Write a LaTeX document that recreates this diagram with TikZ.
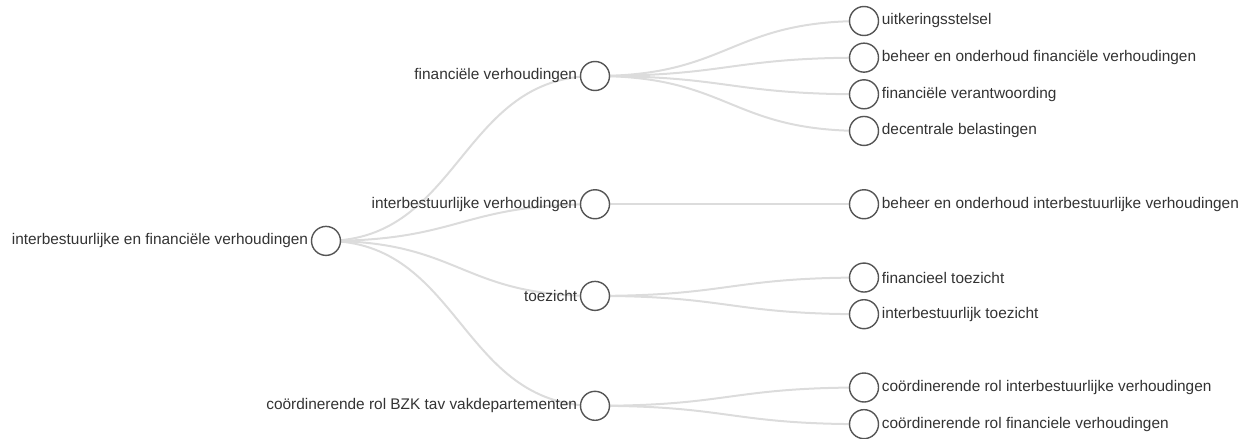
\documentclass[tikz,border=0pt]{standalone}
\usepackage{fontspec}
\setmainfont{Liberation Sans}
\usetikzlibrary{backgrounds}
\definecolor{linkgray}{HTML}{DCDCDC}
\definecolor{circgray}{HTML}{555555}
\definecolor{txtgray}{HTML}{333333}
\begin{document}
\begin{tikzpicture}[x=1pt,y=-1pt,
  dot/.style={circle,draw=circgray,line width=1.4pt,fill=white,minimum size=29pt,inner sep=0pt},
  lbl/.style={font=\fontsize{15.4}{18}\selectfont,text=txtgray,inner sep=1pt},
  leftlbl/.style={label={[lbl,label distance=1.5pt]left:#1}},
  rightlbl/.style={label={[lbl,label distance=1.5pt]right:#1}},
  link/.style={draw=linkgray,line width=2pt,out=0,in=180,out distance=134.5pt,in distance=134.5pt}]
\useasboundingbox (0,0) rectangle (1251,439);
% root
\node[dot,leftlbl={interbestuurlijke en financiële verhoudingen}] (r) at (326,240.9) {};
% level 1
\node[dot,leftlbl={financiële verhoudingen}] (a) at (595,76) {};
\node[dot,leftlbl={interbestuurlijke verhoudingen}] (b) at (595,204.25) {};
\node[dot,leftlbl={toezicht}] (c) at (595,295.9) {};
\node[dot,leftlbl={coördinerende rol BZK tav vakdepartementen}] (d) at (595,405.8) {};
% leaves
\node[dot,rightlbl={uitkeringsstelsel}] (a1) at (864,21) {};
\node[dot,rightlbl={beheer en onderhoud financiële verhoudingen}] (a2) at (864,57.65) {};
\node[dot,rightlbl={financiële verantwoording}] (a3) at (864,94.3) {};
\node[dot,rightlbl={decentrale belastingen}] (a4) at (864,130.95) {};
\node[dot,rightlbl={beheer en onderhoud interbestuurlijke verhoudingen}] (b1) at (864,204.25) {};
\node[dot,rightlbl={financieel toezicht}] (c1) at (864,277.55) {};
\node[dot,rightlbl={interbestuurlijk toezicht}] (c2) at (864,314.2) {};
\node[dot,rightlbl={coördinerende rol interbestuurlijke verhoudingen}] (d1) at (864,387.5) {};
\node[dot,rightlbl={coördinerende rol financiele verhoudingen}] (d2) at (864,424.15) {};
\begin{scope}[on background layer]
\foreach \s/\t in {r/a,r/b,r/c,r/d,a/a1,a/a2,a/a3,a/a4,b/b1,c/c1,c/c2,d/d1,d/d2}
  \draw[link] (\s.center) to (\t.center);
\end{scope}
\end{tikzpicture}
\end{document}
